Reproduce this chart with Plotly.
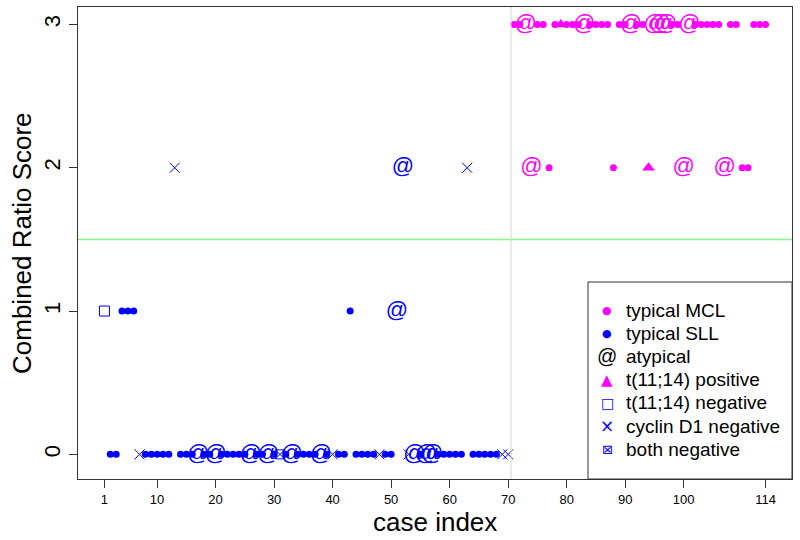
import plotly.graph_objects as go

# ---- data -------------------------------------------------------------
case_index = list(range(1, 115))

scores = [
    1, 0, 0, 1, 1, 1, 0, 0, 0, 0,          # 1-10
    0, 0, 2, 0, 0, 0, 0, 0, 0, 0,          # 11-20
    0, 0, 0, 0, 0, 0, 0, 0, 0, 0,          # 21-30
    0, 0, 0, 0, 0, 0, 0, 0, 0, 0,          # 31-40
    0, 0, 1, 0, 0, 0, 0, 0, 0, 0,          # 41-50
    1, 2, 0, 0, 0, 0, 0, 0, 0, 0,          # 51-60
    0, 0, 2, 0, 0, 0, 0, 0, 0, 0,          # 61-70
    3, 3, 3, 2, 3, 3, 2, 3, 3, 3,          # 71-80
    3, 3, 3, 3, 3, 3, 3, 2, 3, 3,          # 81-90
    3, 3, 3, 2, 3, 3, 3, 3, 3, 2,          # 91-100
    3, 3, 3, 3, 3, 3, 2, 3, 3, 2,          # 101-110
    2, 3, 3, 3,                            # 111-114
]

# dot = typical, at = atypical, tri = t(11;14)+, sq = t(11;14)-,
# x = cyclin D1 negative, sqx = both negative
kinds = [
    "sq", "dot", "dot", "dot", "dot", "dot", "x", "dot", "dot", "dot",
    "dot", "dot", "x", "dot", "dot", "dot", "at", "dot", "dot", "at",
    "dot", "dot", "dot", "dot", "dot", "at", "dot", "dot", "at", "dot",
    "sqx", "dot", "at", "dot", "dot", "dot", "dot", "at", "dot", "x",
    "dot", "dot", "dot", "dot", "dot", "dot", "dot", "x", "dot", "dot",
    "at", "at", "x", "at", "dot", "at", "at", "dot", "dot", "dot",
    "dot", "dot", "x", "dot", "dot", "dot", "dot", "dot", "x", "x",
    "dot", "dot", "at", "at", "dot", "dot", "dot", "dot", "tri", "dot",
    "dot", "dot", "at", "dot", "dot", "dot", "dot", "dot", "dot", "dot",
    "at", "dot", "dot", "tri", "at", "at", "at", "dot", "dot", "at",
    "at", "dot", "dot", "dot", "dot", "dot", "at", "dot", "dot", "dot",
    "dot", "dot", "dot", "dot",
]

n_sll = 70  # cases 1..70 are SLL, 71..114 are MCL

x_ticks = [1, 10, 20, 30, 40, 50, 60, 70, 80, 90, 100, 114]
y_ticks = [0, 1, 2, 3]

legend_labels = ["typical MCL", "typical SLL", "atypical", "t(11;14) positive",
                 "t(11;14) negative", "cyclin D1 negative", "both negative"]

# ---- styling ----------------------------------------------------------
MAG = "#FF00FF"
BLU = "#0000FF"
FONT = "Liberation Sans, Arial, sans-serif"

def color_of(i):
    return BLU if case_index[i] <= n_sll else MAG

def select(kind):
    idx = [i for i, k in enumerate(kinds) if k == kind]
    return ([case_index[i] for i in idx], [scores[i] for i in idx],
            [color_of(i) for i in idx])

fig = go.Figure()

xs, ys, cs = select("dot")
fig.add_trace(go.Scatter(x=xs, y=ys, mode="markers",
                         marker=dict(symbol="circle", size=7, color=cs, line=dict(width=0))))

xs, ys, cs = select("at")
fig.add_trace(go.Scatter(x=xs, y=ys, mode="text", text=["@"] * len(xs),
                         textposition="middle center",
                         textfont=dict(family=FONT, size=22, color=cs)))

xs, ys, cs = select("tri")
fig.add_trace(go.Scatter(x=xs, y=ys, mode="markers",
                         marker=dict(symbol="triangle-up", size=11, color=cs, line=dict(width=0))))

xs, ys, cs = select("sq")
fig.add_trace(go.Scatter(x=xs, y=ys, mode="markers",
                         marker=dict(symbol="square-open", size=10, color=cs, line=dict(width=1))))

xs, ys, cs = select("x")
fig.add_trace(go.Scatter(x=xs, y=ys, mode="markers",
                         marker=dict(symbol="x-thin", size=10, color=cs,
                                     line=dict(width=1, color=cs))))

xs, ys, cs = select("sqx")
fig.add_trace(go.Scatter(x=xs, y=ys, mode="markers",
                         marker=dict(symbol="square-x-open", size=9, color=cs, line=dict(width=1))))

# reference lines
fig.add_hline(y=1.5, line=dict(color="#88f588", width=1.5))
fig.add_vline(x=n_sll + 0.5, line=dict(color="#d3d3d3", width=1))

# ---- layout -----------------------------------------------------------
L, R, T, B = 78, 792, 7, 479
W, H = 800, 540

def px_x(p):
    return (p - L) / (R - L)

def px_y(p):
    return (B - p) / (B - T)

fig.update_layout(
    width=W, height=H,
    margin=dict(l=L, r=W - R, t=T, b=H - B, autoexpand=False),
    plot_bgcolor="white", paper_bgcolor="white",
    showlegend=False,
    font=dict(family=FONT, color="black"),
    xaxis=dict(range=[1 - 0.04 * 113, 114 + 0.04 * 113], tickvals=x_ticks,
               ticktext=[str(v) for v in x_ticks], automargin=False,
               showgrid=False, zeroline=False, showline=True, mirror=True,
               linecolor="#333", linewidth=1, ticks="outside", ticklen=8,
               tickcolor="#333", tickfont=dict(size=13)),
    yaxis=dict(range=[-0.172, 3.122], tickvals=y_ticks, automargin=False,
               showgrid=False, zeroline=False, showline=True, mirror=True,
               linecolor="#333", linewidth=1, ticks="outside", ticklen=8,
               tickcolor="#333", tickfont=dict(size=22), tickangle=-90,
               ticklabelstandoff=0),
)

# axis titles as annotations
fig.add_annotation(x=0.5, y=px_y(522), xref="paper", yref="paper",
                   text="case index", showarrow=False, xanchor="center", yanchor="middle",
                   font=dict(size=26, family=FONT))
fig.add_annotation(x=px_x(22), y=0.5, xref="paper", yref="paper",
                   text="Combined Ratio Score", showarrow=False, textangle=-90,
                   xanchor="center", yanchor="middle",
                   font=dict(size=26, family=FONT))

# ---- legend (drawn manually) -------------------------------------------
fig.add_shape(type="rect", xref="paper", yref="paper",
              x0=px_x(588), x1=1, y0=0, y1=px_y(282),
              line=dict(color="#333", width=1), fillcolor="white", layer="above")

sym = [("●", MAG, 11), ("●", BLU, 11), ("@", "black", 20), ("▲", MAG, 15),
       ("□", BLU, 14), ("×", BLU, 17), ("⊠", BLU, 13)]
row0, step = 310, 23.2
for j, lab in enumerate(legend_labels):
    yy = px_y(row0 + j * step)
    s, c, sz = sym[j]
    fig.add_annotation(x=px_x(607), y=yy, xref="paper", yref="paper", text=s,
                       showarrow=False, xanchor="center", yanchor="middle",
                       font=dict(size=sz, color=c, family="DejaVu Sans, " + FONT if s != "@" else FONT))
    fig.add_annotation(x=px_x(624), y=yy, xref="paper", yref="paper", text=lab,
                       showarrow=False, xanchor="left", yanchor="middle",
                       font=dict(size=19, color="black", family=FONT))

fig.write_html("out.html",
               config={"displayModeBar": False},
               post_script="document.body.style.margin='0px';"
                           "document.body.style.overflow='hidden';")
